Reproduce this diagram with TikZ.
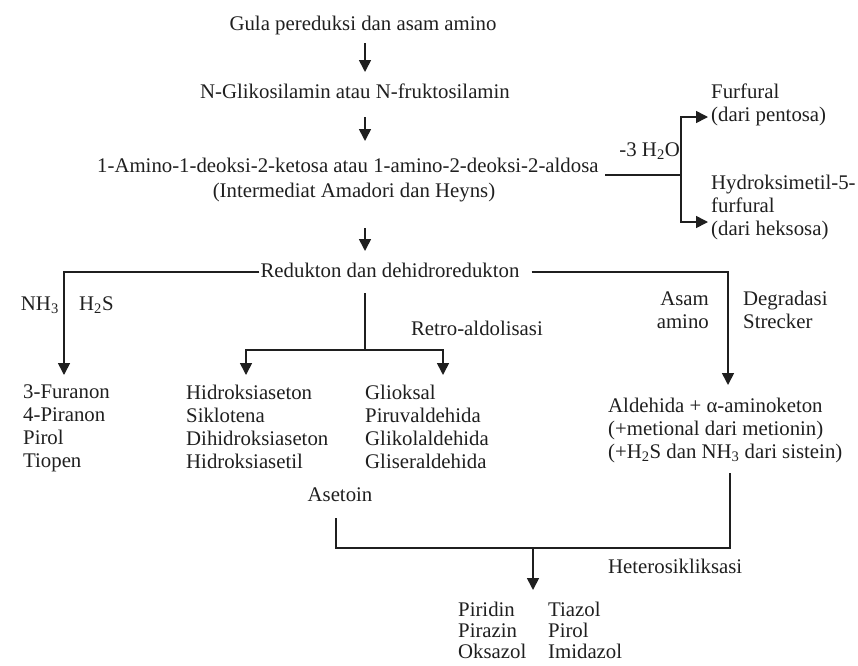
\documentclass[tikz,border=0pt]{standalone}
\usepackage{fontspec}
\setmainfont{Liberation Serif}
\usetikzlibrary{arrows.meta}
\begin{document}
\begin{tikzpicture}[x=1pt,y=-1pt,
  txt/.style={inner sep=0pt, font=\fontsize{20.8}{23}\selectfont, text=black!88, text height=14pt, text depth=4pt},
  blk/.style={inner sep=0pt, font=\fontsize{20.8}{23}\selectfont, text=black!88, align=left, anchor=north west},
  ln/.style={draw=black!88, line width=1.6pt},
  arr/.style={ln, -{Triangle[width=12pt,length=12pt]}},
]
\useasboundingbox (0,0) rectangle (858,665);
% main column
\node[txt] (gula) at (363,25) {Gula pereduksi dan asam amino};
\node[txt] (nglik) at (355,93) {N-Glikosilamin atau N-fruktosilamin};
\node[txt, anchor=west] (amino) at (97,167) {1-Amino-1-deoksi-2-ketosa atau 1-amino-2-deoksi-2-aldosa};
\node[txt] (interm) at (354,192) {(Intermediat Amadori dan Heyns)};
\node[txt] (redu) at (390,272) {Redukton dan dehidroredukton};
% arrows of the main column
\coordinate (a1s) at (365,43);  \coordinate (a1e) at (365,72);
\coordinate (a2s) at (365,117); \coordinate (a2e) at (365,141);
\coordinate (a3s) at (365,228); \coordinate (a3e) at (365,251);
\draw[arr] (a1s) -- (a1e);
\draw[arr] (a2s) -- (a2e);
\draw[arr] (a3s) -- (a3e);
% furfural branch
\coordinate (h0) at (605,175);
\coordinate (hj) at (681,175);
\coordinate (tf1) at (708,117);
\coordinate (tf2) at (708,222);
\draw[ln] (h0) -- (hj);
\draw[arr] (hj) |- (tf1);
\draw[arr] (hj) |- (tf2);
\node[txt, anchor=east] (h2o) at (680,151) {-3 H\textsubscript{2}O};
\node[blk] (furf) at (711,84) {Furfural\\(dari pentosa)};
\node[blk] (hmf) at (711,175) {Hydroksimetil-5-\\furfural\\(dari heksosa)};
% left branch
\coordinate (tl) at (64,375);
\draw[arr] ([xshift=-1pt]redu.west) -| (tl);
\node[txt, anchor=east] (nh3) at (59,305) {NH\textsubscript{3}};
\node[txt, anchor=west] (h2s) at (79,305) {H\textsubscript{2}S};
\node[blk] (listA) at (23,385) {3-Furanon\\4-Piranon\\Pirol\\Tiopen};
% middle branch
\coordinate (m1) at (365,293);
\coordinate (m2) at (365,350);
\coordinate (tmA) at (246,375);
\coordinate (tmB) at (443,375);
\draw[ln] (m1) -- (m2);
\draw[arr] (m2) -| (tmA);
\draw[arr] (m2) -| (tmB);
\node[txt, anchor=east] (retro) at (543,330) {Retro-aldolisasi};
\node[blk] (listB) at (186,385) {Hidroksiaseton\\Siklotena\\Dihidroksiaseton\\Hidroksiasetil};
\node[blk] (listC) at (365,385) {Glioksal\\Piruvaldehida\\Glikolaldehida\\Gliseraldehida};
\node[txt] (asetoin) at (340,496) {Asetoin};
% right branch
\coordinate (tr) at (728,385);
\draw[arr] ([xshift=12pt]redu.east) -| (tr);
\node[txt, anchor=east] (asam) at (709,300) {Asam};
\node[txt, anchor=east] (amn) at (709,323) {amino};
\node[txt, anchor=west] (degr) at (743,300) {Degradasi};
\node[txt, anchor=west] (strk) at (743,323) {Strecker};
\node[blk] (ald) at (608,398) {Aldehida + α-aminoketon\\(+metional dari metionin)\\(+H\textsubscript{2}S dan NH\textsubscript{3} dari sistein)};
% bottom
\coordinate (bA) at (336,518);
\coordinate (bJ) at (533,548);
\coordinate (bR) at (730,473);
\coordinate (tp) at (533,590);
\draw[ln] (bA) |- (bJ) -| (bR);
\draw[arr] (bJ) -- (tp);
\node[txt, anchor=west] (hetero) at (608,568) {Heterosikliksasi};
\node[blk, font=\fontsize{20.8}{21}\selectfont] (prodA) at (458,602) {Piridin\\Pirazin\\Oksazol};
\node[blk, font=\fontsize{20.8}{21}\selectfont] (prodB) at (548,602) {Tiazol\\Pirol\\Imidazol};
\end{tikzpicture}
\end{document}
